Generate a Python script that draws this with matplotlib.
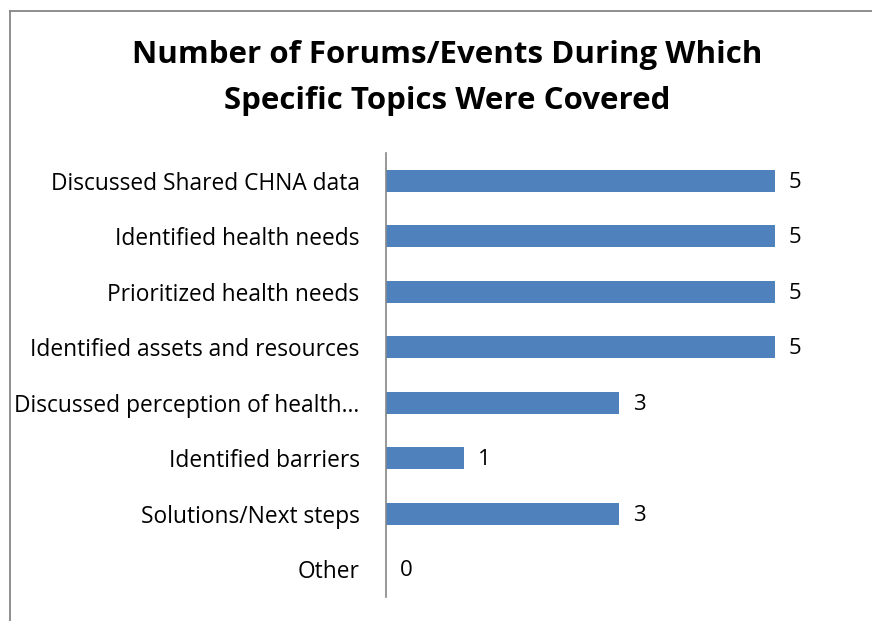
import matplotlib.pyplot as plt
from matplotlib.lines import Line2D

categories = [
    "Discussed Shared CHNA data",
    "Identified health needs",
    "Prioritized health needs",
    "Identified assets and resources",
    "Discussed perception of health\u2026",
    "Identified barriers",
    "Solutions/Next steps",
    "Other",
]
counts = [5, 5, 5, 5, 3, 1, 3, 0]
title_lines = ["Number of Forums/Events During Which", "Specific Topics Were Covered"]

plt.rcParams['font.family'] = ['Open Sans', 'DejaVu Sans']

W, H = 872, 621
fig = plt.figure(figsize=(W / 100, H / 100), dpi=100)

# outer chart border: only left and top are inside the crop
fig.add_artist(Line2D([9.5 / W, 9.5 / W], [0, 1 - 10.5 / H], color='#868686', linewidth=1.3))
fig.add_artist(Line2D([9.5 / W, 1], [1 - 10.5 / H, 1 - 10.5 / H], color='#868686', linewidth=1.3))

ax = fig.add_axes([386 / W, 1 - 597 / H, (775 - 386) / W, (597 - 153) / H])
y = list(range(len(categories)))
ax.barh(y, counts, height=0.4, color='#4f81bd')
ax.set_ylim(len(categories) - 0.5, -0.5)
ax.set_xlim(0, 5)

for i, v in enumerate(counts):
    ax.annotate(str(v), (v, i), xytext=(10, -1), textcoords='offset points',
                va='center', ha='left', fontsize=16, color='black',
                annotation_clip=False)

ax.set_yticks(y)
ax.set_yticklabels(categories, fontsize=16.4)
ax.tick_params(axis='y', length=0, pad=19)
ax.set_xticks([])
for s in ['top', 'right', 'bottom']:
    ax.spines[s].set_visible(False)
ax.spines['left'].set_color('#868686')
ax.spines['left'].set_linewidth(1.2)

fig.text(447 / W, 1 - 55 / H, title_lines[0], ha='center', va='center',
         fontsize=22.5, fontweight='bold')
fig.text(447 / W, 1 - 101 / H, title_lines[1], ha='center', va='center',
         fontsize=22.5, fontweight='bold')

fig.savefig('out.png', dpi=100)
